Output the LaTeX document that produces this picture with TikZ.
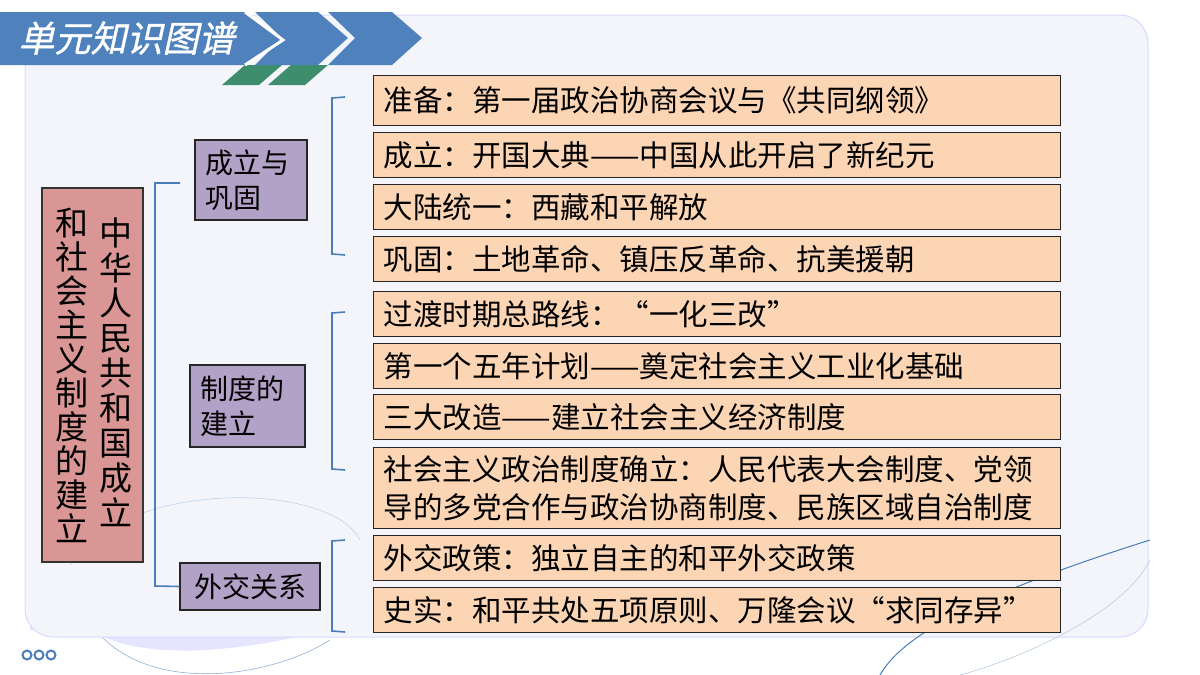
\documentclass[tikz,border=0pt]{standalone}
\usepackage{fontspec}
\setmainfont{Noto Sans CJK SC}
\newfontfamily\hdfont[FakeSlant=0.22,FakeBold=1]{Noto Sans CJK SC}
\usetikzlibrary{positioning}
\definecolor{bgpanel}{HTML}{F3F5FB}
\definecolor{hdblue}{HTML}{4F81BD}
\definecolor{hdgreen}{HTML}{3E8E6E}
\definecolor{rosebox}{HTML}{D99694}
\definecolor{lilac}{HTML}{B3A2C7}
\definecolor{peach}{HTML}{FCD5B5}
\definecolor{brk}{HTML}{4A7EBB}
\tikzset{
topic/.style={
    draw=black!85,
    line width=1.2pt,
    fill=lilac,
    align=left,
    inner sep=0pt,
    font=\fontsize{28}{35}\selectfont
},
fact/.style={
    draw=black!85,
    line width=1.2pt,
    fill=peach,
    anchor=north west,
    minimum width=687pt,
    inner xsep=10pt,
    inner ysep=0pt,
    align=left,
    text width=667pt,
    font=\fontsize{29.5}{38}\selectfont
},
brace/.style={
    draw=brk,
    line width=1.6pt
}}
\begin{document}
\begin{tikzpicture}[x=1pt,y=-1pt]
\useasboundingbox (0,0) rectangle (1200,675);
\fill[white] (0,0) rectangle (1200,675);
% background panel and decoration
\fill[blue!20!white,opacity=0.5] (30,520) .. controls (40,680) and (200,660) .. (330,630) -- (30,630) -- cycle;
\draw[brk!60,line width=0.6pt] (70,560) .. controls (80,700) and (250,690) .. (330,640);
\filldraw[fill=bgpanel,draw=blue!15,line width=1pt,rounded corners=28pt] (25,15) rectangle (1148,637);
\draw[brk!35,line width=0.6pt] (70,565) .. controls (120,480) and (330,480) .. (360,540);
\draw[brk,line width=1pt] (880,675) .. controls (900,640) and (960,600) .. (1150,540);
\draw[brk!40,line width=0.6pt] (1150,560) .. controls (1120,620) and (1000,665) .. (960,675);
\foreach \i in {0,1,2}
  \draw[brk,line width=2pt] (27+\i*12,655) circle (4.5pt);
% header
\fill[hdgreen] (222,85) -- (245,65) -- (282,65) -- (259,85) -- cycle;
\fill[hdgreen] (268,85) -- (291,65) -- (328,65) -- (305,85) -- cycle;
\fill[hdblue] (328,12) -- (392,12) -- (422,38) -- (392,65) -- (328,65) -- (355,38) -- cycle;
\fill[hdblue] (255,12) -- (318,12) -- (348,38) -- (318,65) -- (255,65) -- (282,38) -- cycle;
\fill[hdblue] (0,12) -- (245,12) -- (283,40) -- (245,65) -- (0,65) -- cycle;
\draw[white,line width=3pt] (245,12) -- (283,40) -- (245,65);
\node[white,anchor=west,font=\hdfont\fontsize{36}{36}\selectfont] (title) at (15,38) {单元知识图谱};
% main box
\node[draw=black!80,line width=1.2pt,fill=rosebox,minimum width=101pt,minimum height=374pt] (main) at (92.5,375) {};
\node[font=\fontsize{33}{35}\selectfont,align=center,text width=34pt] (mainr) at (116,372) {中\\华\\人\\民\\共\\和\\国\\成\\立};
\node[font=\fontsize{33}{34}\selectfont,align=center,text width=34pt] (mainl) at (72,375) {和\\社\\会\\主\\义\\制\\度\\的\\建\\立};
% topics
\node[topic,minimum width=112pt,minimum height=80pt,text width=92pt] (t1) at (251,180) {成立与\\巩固};
\node[topic,minimum width=115pt,minimum height=82pt,text width=95pt] (t2) at (247.5,406) {制度的\\建立};
\node[topic,minimum width=140pt,minimum height=47pt,align=center] (t3) at (250,586.5) {外交关系};
\coordinate (top) at (180,183);
\draw[brace] (top) -| (155,586) -- (t3.west);
% facts
\node[fact,minimum height=50pt] (f1) at (373,75) {准备：第一届政治协商会议与《共同纲领》};
\node[fact,minimum height=45pt] (f2) at (373,132) {成立：开国大典——中国从此开启了新纪元};
\node[fact,minimum height=45pt] (f3) at (373,184) {大陆统一：西藏和平解放};
\node[fact,minimum height=45pt] (f4) at (373,236) {巩固：土地革命、镇压反革命、抗美援朝};
\node[fact,minimum height=45pt] (f5) at (373,291) {过渡时期总路线：“一化三改”};
\node[fact,minimum height=45pt] (f6) at (373,343) {第一个五年计划——奠定社会主义工业化基础};
\node[fact,minimum height=45pt] (f7) at (373,394) {三大改造——建立社会主义经济制度};
\node[fact,minimum height=81pt] (f8) at (373,447) {社会主义政治制度确立：人民代表大会制度、党领\\导的多党合作与政治协商制度、民族区域自治制度};
\node[fact,minimum height=45pt] (f9) at (373,535) {外交政策：独立自主的和平外交政策};
\node[fact,minimum height=45pt] (f10) at (373,587) {史实：和平共处五项原则、万隆会议“求同存异”};
% brackets
\draw[brace] (345,97) -- (332,98) -- (332,254) -- (345,255);
\draw[brace] (345,312) -- (332,313) -- (332,469) -- (345,470);
\draw[brace] (345,540) -- (332,541) -- (332,631) -- (345,632);
\end{tikzpicture}
\end{document}
